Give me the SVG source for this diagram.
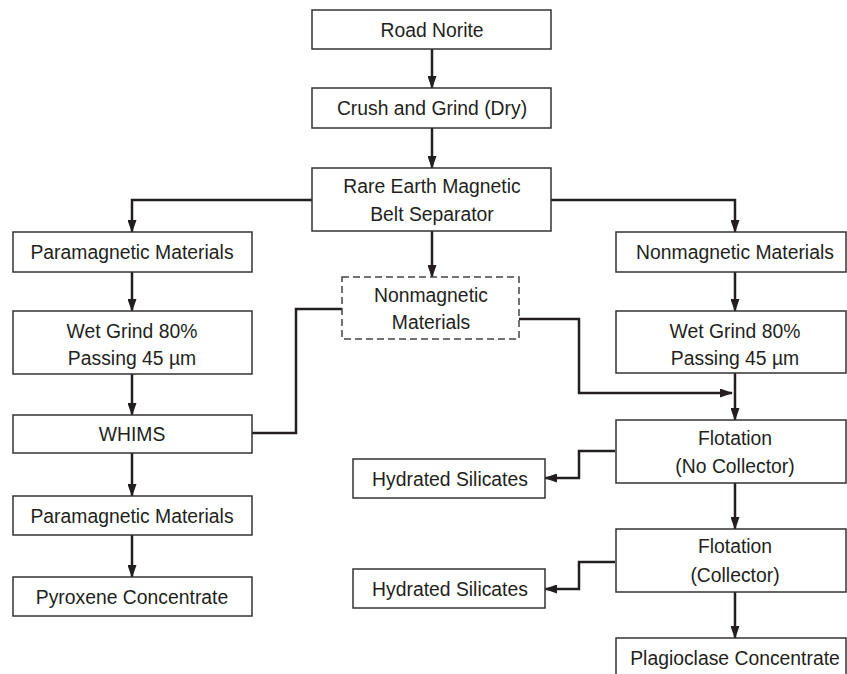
<svg xmlns="http://www.w3.org/2000/svg" width="847" height="674" viewBox="0 0 847 674">
<style>
  .box { fill: #ffffff; stroke: #333333; stroke-width: 1.5; }
  .dash { fill: #ffffff; stroke: #444444; stroke-width: 1.5; stroke-dasharray: 7 4; }
  .t { font-family: "Liberation Sans", Arial, sans-serif; font-size: 20.8px; fill: #231f20; text-anchor: middle; }
  .c { fill: none; stroke: #231f20; stroke-width: 2.5; }
</style>
<defs>
  <marker id="ah" markerUnits="userSpaceOnUse" markerWidth="13" markerHeight="9" viewBox="0 0 13 9" refX="12" refY="4.5" orient="auto">
    <path d="M0,0 L13,4.5 L0,9 Z" fill="#231f20"/>
  </marker>
</defs>
<rect width="847" height="674" fill="#ffffff"/>

<g id="connectors">
  <path class="c" d="M432,49 V88" marker-end="url(#ah)"/>
  <path class="c" d="M432,128 V168" marker-end="url(#ah)"/>
  <path class="c" d="M312,200 H132 V232" marker-end="url(#ah)"/>
  <path class="c" d="M551,200 H735 V232" marker-end="url(#ah)"/>
  <path class="c" d="M432,231 V277" marker-end="url(#ah)"/>
  <path class="c" d="M132,272 V311" marker-end="url(#ah)"/>
  <path class="c" d="M132,374 V415" marker-end="url(#ah)"/>
  <path class="c" d="M132,453 V496" marker-end="url(#ah)"/>
  <path class="c" d="M132,535 V577" marker-end="url(#ah)"/>
  <path class="c" d="M252,433 H296 V309 H342"/>
  <path class="c" d="M519,319 H579 V393 H732" marker-end="url(#ah)"/>
  <path class="c" d="M735,272 V311" marker-end="url(#ah)"/>
  <path class="c" d="M735,373 V420" marker-end="url(#ah)"/>
  <path class="c" d="M615,451 H579 V478 H545" marker-end="url(#ah)"/>
  <path class="c" d="M735,483 V529" marker-end="url(#ah)"/>
  <path class="c" d="M615,562 H579 V589 H545" marker-end="url(#ah)"/>
  <path class="c" d="M735,592 V638" marker-end="url(#ah)"/>
</g>

<g id="road-norite">
  <rect class="box" x="312" y="10" width="239" height="39"/>
  <text class="t" transform="translate(432,37) scale(0.93,1)">Road Norite</text>
</g>
<g id="crush-grind">
  <rect class="box" x="312" y="88" width="239" height="40"/>
  <text class="t" transform="translate(432,115) scale(0.93,1)">Crush and Grind (Dry)</text>
</g>
<g id="rare-earth">
  <rect class="box" x="312" y="168" width="239" height="63"/>
  <text class="t" transform="translate(432,193) scale(0.93,1)">Rare Earth Magnetic</text>
  <text class="t" transform="translate(432,221) scale(0.93,1)">Belt Separator</text>
</g>
<g id="para-1">
  <rect class="box" x="13" y="232" width="239" height="40"/>
  <text class="t" transform="translate(132,259) scale(0.93,1)">Paramagnetic Materials</text>
</g>
<g id="wet-grind-left">
  <rect class="box" x="13" y="311" width="239" height="63"/>
  <text class="t" transform="translate(132,338) scale(0.93,1)">Wet Grind 80%</text>
  <text class="t" transform="translate(132,365) scale(0.93,1)">Passing 45 µm</text>
</g>
<g id="whims">
  <rect class="box" x="13" y="415" width="239" height="38"/>
  <text class="t" transform="translate(132,441) scale(0.93,1)">WHIMS</text>
</g>
<g id="para-2">
  <rect class="box" x="13" y="496" width="239" height="39"/>
  <text class="t" transform="translate(132,523) scale(0.93,1)">Paramagnetic Materials</text>
</g>
<g id="pyroxene">
  <rect class="box" x="13" y="577" width="239" height="39"/>
  <text class="t" transform="translate(132,604) scale(0.93,1)">Pyroxene Concentrate</text>
</g>
<g id="nonmag-middle">
  <rect class="dash" x="342" y="277" width="177" height="62"/>
  <text class="t" transform="translate(431,302) scale(0.93,1)">Nonmagnetic</text>
  <text class="t" transform="translate(431,329) scale(0.93,1)">Materials</text>
</g>
<g id="nonmag-right">
  <rect class="box" x="616" y="232" width="230" height="40"/>
  <text class="t" transform="translate(735,259) scale(0.93,1)">Nonmagnetic Materials</text>
</g>
<g id="wet-grind-right">
  <rect class="box" x="616" y="311" width="230" height="62"/>
  <text class="t" transform="translate(735,338) scale(0.93,1)">Wet Grind 80%</text>
  <text class="t" transform="translate(735,365) scale(0.93,1)">Passing 45 µm</text>
</g>
<g id="flotation-1">
  <rect class="box" x="616" y="420" width="230" height="63"/>
  <text class="t" transform="translate(735,445) scale(0.93,1)">Flotation</text>
  <text class="t" transform="translate(735,473) scale(0.93,1)">(No Collector)</text>
</g>
<g id="hydrated-1">
  <rect class="box" x="353" y="459" width="192" height="39"/>
  <text class="t" transform="translate(450,486) scale(0.93,1)">Hydrated Silicates</text>
</g>
<g id="flotation-2">
  <rect class="box" x="616" y="529" width="230" height="63"/>
  <text class="t" transform="translate(735,553) scale(0.93,1)">Flotation</text>
  <text class="t" transform="translate(735,582) scale(0.93,1)">(Collector)</text>
</g>
<g id="hydrated-2">
  <rect class="box" x="353" y="569" width="192" height="39"/>
  <text class="t" transform="translate(450,596) scale(0.93,1)">Hydrated Silicates</text>
</g>
<g id="plagioclase">
  <rect class="box" x="616" y="638" width="230" height="60"/>
  <text class="t" transform="translate(735,665) scale(0.93,1)">Plagioclase Concentrate</text>
</g>
</svg>
